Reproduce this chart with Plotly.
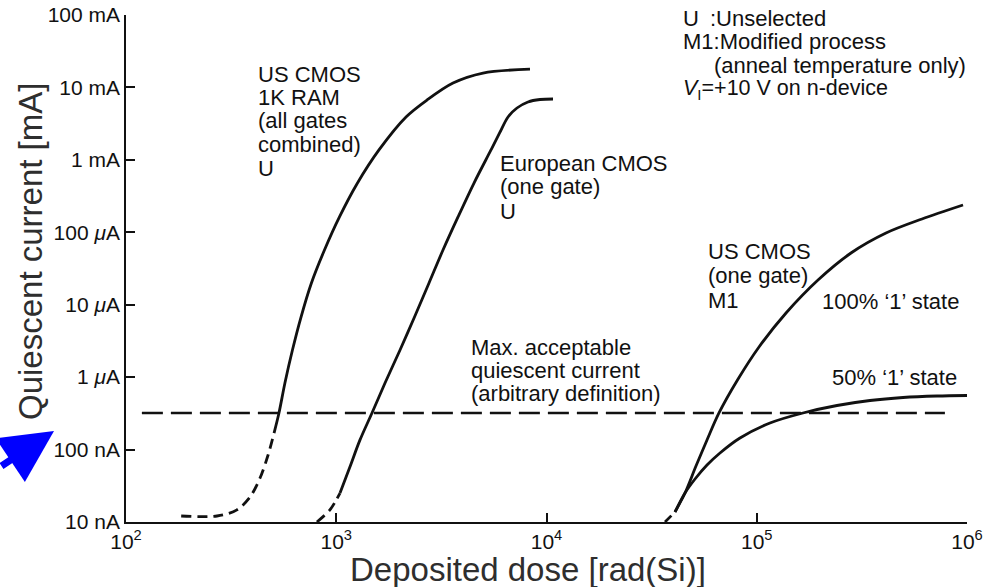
import plotly.graph_objects as go

# Dose in rad(Si), quiescent current in mA
ram_dose_dashed = [183, 271, 337, 389, 434, 474, 506]
ram_curr_dashed = [1.21e-5, 1.21e-5, 1.47e-5, 2.21e-5, 4.05e-5, 8.41e-5, 1.69e-4]
ram_dose = [506, 534, 570, 619, 680, 762, 879, 1036, 1262, 1597, 2147, 2701, 3592, 4989, 8346]
ram_curr = [1.69e-4, 3.20e-4, 8.30e-4, 2.37e-3, 6.76e-3, 0.01995, 0.0569, 0.163, 0.479,
            1.37, 3.91, 6.70, 11.5, 15.8, 17.9]

eu_dose_dashed = [809, 933, 1042]
eu_curr_dashed = [1.0e-5, 1.47e-5, 2.51e-5]
eu_dose = [1042, 1161, 1297, 1479, 1706, 2011, 2356, 2762, 3219, 3795, 4521, 5445, 5984,
           6561, 7238, 8166, 9314, 10740]
eu_curr = [2.51e-5, 5.74e-5, 1.36e-4, 3.20e-4, 8.30e-4, 2.37e-3, 6.76e-3, 0.01995, 0.0569,
           0.163, 0.479, 1.37, 2.35, 3.91, 5.20, 6.30, 6.81, 6.92]

m1_dose_dashed = [36610, 40850]
m1_curr_dashed = [1.0e-5, 1.375e-5]
m1_full_dose = [40850, 45580, 51400, 58000, 66130, 80980, 102500, 137800, 195600, 280700,
                411800, 610800, 957300]
m1_full_curr = [1.375e-5, 2.515e-5, 5.93e-5, 1.356e-4, 3.20e-4, 9.13e-4, 2.607e-3, 7.69e-3,
                0.02194, 0.05175, 0.0977, 0.1526, 0.238]
m1_half_dose = [40850, 45580, 50860, 58000, 66870, 83230, 115600, 165900, 240800, 345700,
                496300, 720000, 1000000]
m1_half_curr = [1.375e-5, 2.515e-5, 3.925e-5, 6.12e-5, 8.97e-5, 1.444e-4, 2.327e-4, 3.20e-4,
                4.06e-4, 4.76e-4, 5.236e-4, 5.49e-4, 5.58e-4]

limit_dose = [119, 785000]
limit_curr = [3.2e-4, 3.2e-4]

x_tickvals = [1e2, 1e3, 1e4, 1e5, 1e6]
x_ticktext = ["10<sup>2</sup>", "10<sup>3</sup>", "10<sup>4</sup>", "10<sup>5</sup>", "10<sup>6</sup>"]
y_tickvals = [1e-5, 1e-4, 1e-3, 1e-2, 1e-1, 1, 10, 100]
y_ticktext = ["10 nA", "100 nA", "1 <i>μ</i>A", "10 <i>μ</i>A", "100 <i>μ</i>A",
              "1 mA", "10 mA", "100 mA"]

FONT = "Liberation Sans, Arial, Helvetica, sans-serif"
INK = "#111111"

fig = go.Figure()


def curve(x, y, dash="solid", width=2.8):
    fig.add_trace(go.Scatter(x=x, y=y, mode="lines",
                             line=dict(color=INK, width=width, dash=dash,
                                       shape="spline", smoothing=0.9),
                             hoverinfo="skip", showlegend=False))


curve(ram_dose_dashed, ram_curr_dashed, dash="10px,6px")
curve(ram_dose, ram_curr)
curve(eu_dose_dashed, eu_curr_dashed, dash="10px,6px")
curve(eu_dose, eu_curr)
curve(m1_dose_dashed, m1_curr_dashed, dash="9px,5px")
curve(m1_full_dose, m1_full_curr)
curve(m1_half_dose, m1_half_curr)
fig.add_trace(go.Scatter(x=limit_dose, y=limit_curr, mode="lines",
                         line=dict(color=INK, width=2.6, dash="21px,8px"),
                         hoverinfo="skip", showlegend=False))

# plot area in pixels: x 126..967, y 15..522
L, R, T, B = 126, 967, 15, 522


def px(x):
    return (x - L) / (R - L)


def py(y):
    return (B - y) / (B - T)


def label(text, x, y, size=22, color=INK, **kw):
    fig.add_annotation(text=text, x=px(x), y=py(y), xref="paper", yref="paper",
                       xanchor="left", yanchor="middle", showarrow=False,
                       font=dict(family=FONT, size=size, color=color), **kw)


for i, t in enumerate(["US CMOS", "1K RAM", "(all gates", "combined)", "U"]):
    label(t, 256, 74 + 23.5 * i)
for i, t in enumerate(["European CMOS", "(one gate)", "U"]):
    label(t, 498, 163 + 24 * i)
for i, t in enumerate(["US CMOS", "(one gate)", "M1"]):
    label(t, 706, 251 + 24.5 * i)
label("100% ‘1’ state", 820, 301)
label("50% ‘1’ state", 830, 377)
for i, t in enumerate(["Max. acceptable", "quiescent current", "(arbitrary definition)"]):
    label(t, 469, 347 + 23 * i)

label("U", 681, 18)
label(":Unselected", 708, 18)
label("M1:Modified process", 681, 41, size=22)
label("(anneal temperature only)", 712, 65.5, size=22)
label("<i>V</i><sub>I</sub>=+10 V on n-device", 681, 90, size=21.5)

# axis titles
fig.add_annotation(text="Quiescent current [mA]", x=px(31), y=py(252), xref="paper",
                   yref="paper", xanchor="center", yanchor="middle", textangle=-90,
                   showarrow=False, font=dict(family=FONT, size=33, color="#2e2e2e"))
fig.add_annotation(text="Deposited dose [rad(Si)]", x=px(528), y=py(569), xref="paper",
                   yref="paper", xanchor="center", yanchor="middle", showarrow=False,
                   font=dict(family=FONT, size=33, color="#2e2e2e"))

# blue pointer at the left edge
fig.add_annotation(x=px(54), y=py(431), xref="paper", yref="paper", text="",
                   showarrow=True, ax=-72, ay=36, arrowhead=2, arrowsize=1.5,
                   arrowwidth=7, arrowcolor="#0000ff")

axis_common = dict(type="log", showline=True, linecolor=INK, linewidth=1.6,
                   ticks="inside", ticklen=9, tickwidth=1.5, tickcolor=INK,
                   showgrid=False, zeroline=False, automargin=False,
                   tickfont=dict(family=FONT, size=21, color=INK))

fig.update_layout(
    width=1005, height=587,
    margin=dict(l=L, r=1005 - R, t=T, b=587 - B, autoexpand=False),
    paper_bgcolor="white", plot_bgcolor="white",
    xaxis=dict(range=[2, 6], tickvals=x_tickvals, ticktext=x_ticktext, **axis_common),
    yaxis=dict(range=[-5, 2], tickvals=y_tickvals, ticktext=y_ticktext, **axis_common),
)

fig.write_html("out.html")
